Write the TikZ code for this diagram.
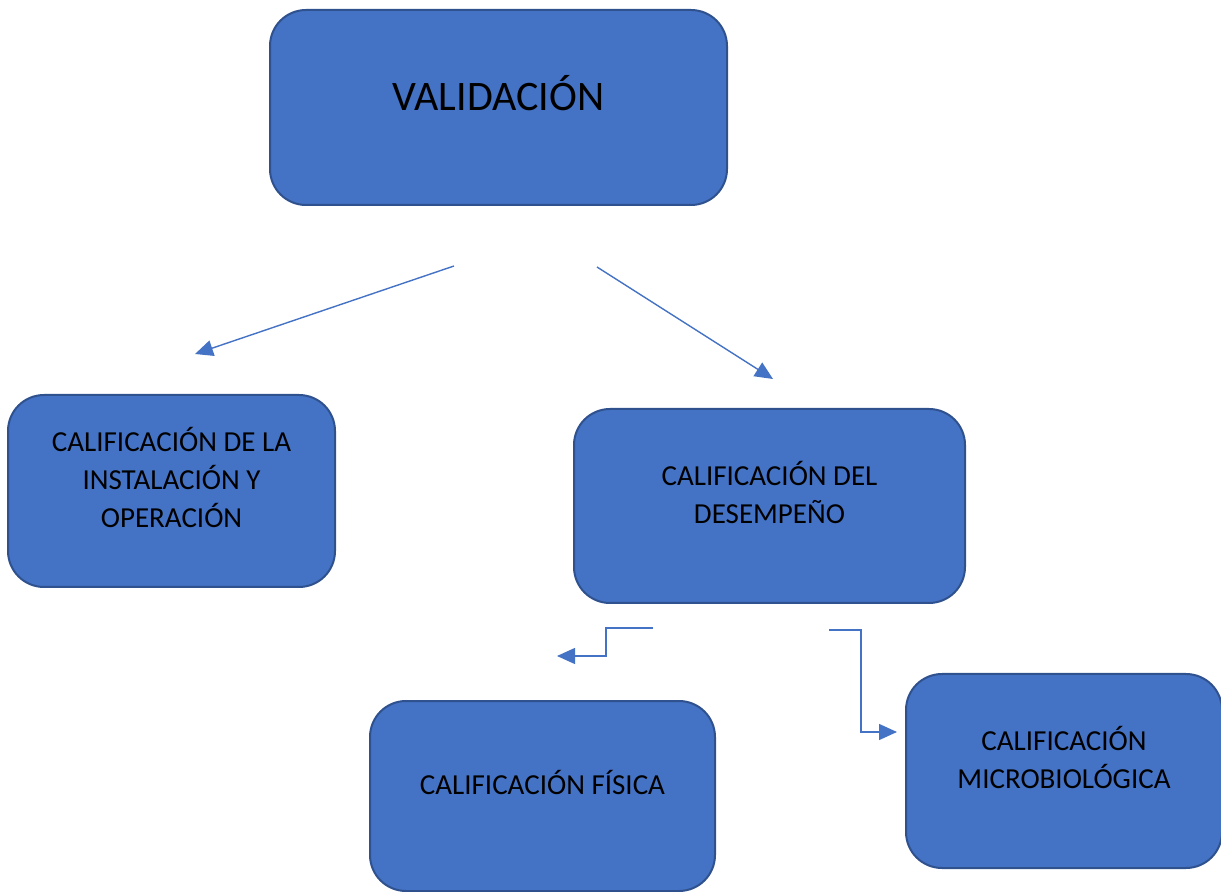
\documentclass[tikz,border=0pt]{standalone}
\usepackage{fontspec}
\setmainfont{Carlito}
\usetikzlibrary{arrows.meta}
\definecolor{boxfill}{HTML}{4472C4}
\definecolor{boxline}{HTML}{2F528F}
\tikzset{
    box/.style={draw=boxline, line width=1pt, fill=boxfill, rounded corners=18pt,
        align=center, font=\fontsize{14.5}{19}\selectfont, text depth=13.5pt},
    link/.style={draw=boxfill, line width=0.7pt, -{Triangle[length=9pt, width=8pt]}}
}
\begin{document}
\begin{tikzpicture}[x=0.5pt, y=-0.5pt]
    \useasboundingbox (0, 0) rectangle (1221, 892);
    \node[box, minimum width=228.5pt, minimum height=97.5pt, font=\fontsize{21}{25}\selectfont, text depth=15pt] (val) at (498.5, 107.5) {VALIDACIÓN};
    \node[box, minimum width=163.5pt, minimum height=96pt] (instop) at (171.5, 491) {CALIFICACIÓN DE LA\\INSTALACIÓN Y\\OPERACIÓN};
    \node[box, minimum width=195.5pt, minimum height=97pt] (desemp) at (769.5, 506) {CALIFICACIÓN DEL\\DESEMPEÑO};
    \node[box, minimum width=172.5pt, minimum height=95pt] (fisica) at (542.5, 796) {CALIFICACIÓN FÍSICA};
    \node[box, minimum width=158pt, minimum height=97pt] (micro) at (1064, 771) {CALIFICACIÓN\\MICROBIOLÓGICA};
    % free arrows
    \coordinate (la) at (454, 266);
    \coordinate (lb) at (195, 354);
    \coordinate (ra) at (597, 267);
    \coordinate (rb) at (773, 379);
    \coordinate (fa) at (653, 628);
    \coordinate (fb) at (557, 656);
    \coordinate (ma) at (829, 630);
    \coordinate (mb) at (897, 732);
    \draw[link] (la) -- (lb);
    \draw[link] (ra) -- (rb);
    \draw[link] (fa) -- (606, 628) |- (fb);
    \draw[link] (ma) -| (861, 732) -- (mb);
\end{tikzpicture}
\end{document}
